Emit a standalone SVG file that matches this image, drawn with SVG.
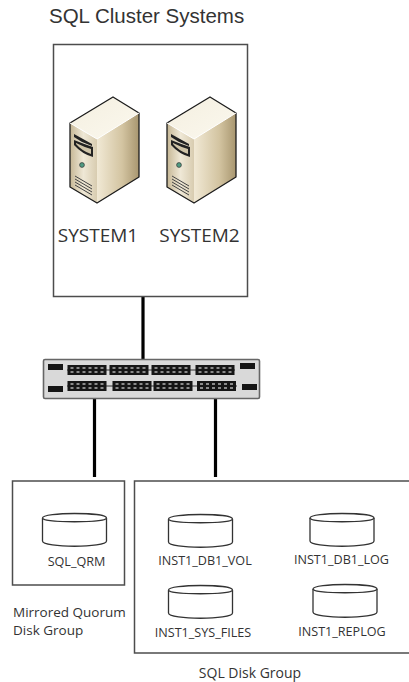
<svg xmlns="http://www.w3.org/2000/svg" width="409" height="682" viewBox="0 0 409 682">
<style>
.box{fill:#fff;stroke:#4d4d4d;stroke-width:1.5}
.link{stroke:#000;stroke-width:3.2;fill:none}
.t{font-family:"Open Sans","Noto Sans",sans-serif;fill:#333;text-anchor:middle}
.l{font-family:"Open Sans","Noto Sans",sans-serif;fill:#333;font-size:13.5px}
.s{font-size:12.6px}
.m{font-size:19px}
.title{font-family:"Liberation Sans",Arial,sans-serif;font-size:20.5px;fill:#333}
.disk{fill:#fff;stroke:#333;stroke-width:1.3}
.port{fill:#151515}
.hole{fill:#8a8a8a}
</style>
<defs>
<linearGradient id="top" x1="0" y1="0" x2="1" y2="1"><stop offset="0" stop-color="#f4efe0"/><stop offset="1" stop-color="#fbf8ee"/></linearGradient>
<linearGradient id="front" x1="0" y1="0" x2="1" y2="0"><stop offset="0" stop-color="#c6b795"/><stop offset=".5" stop-color="#efe8d6"/><stop offset="1" stop-color="#d8ccb0"/></linearGradient>
<linearGradient id="side" x1="0" y1="0" x2="1" y2="0"><stop offset="0" stop-color="#f1e9d5"/><stop offset=".6" stop-color="#d3c4a1"/><stop offset="1" stop-color="#a8966f"/></linearGradient>
<g id="server">
<path d="M70 123L113 97L139 113L97 139Z" fill="url(#top)"/>
<path d="M70 123L97 139V203L70 187Z" fill="url(#front)"/>
<path d="M97 139L139 113V177L97 203Z" fill="url(#side)"/>
<path d="M70 123L113 97L139 113V177L97 203L70 187Z" fill="none" stroke="#1c1c1c" stroke-width="1.3" stroke-linejoin="round"/>
<path d="M97 139L139 113M70 123L97 139" fill="none" stroke="#fff" stroke-width="1"/>
<path d="M74 134L92 144L92 146L82 142L74 137Z" fill="#222"/>
<path d="M74 140Q84 144 93 147V157Q82 154 74 145Z" fill="#222"/>
<path d="M76 143Q84 147 91 149V154Q82 151 76 144Z" fill="#cfc4a8"/>
<circle cx="82" cy="165" r="2.4" fill="#4f9b82" stroke="#333" stroke-width=".7"/>
<path d="M75 176L92 186M75 179L92 189M75 182L92 192M75 185L92 195" fill="none" stroke="#444" stroke-width="1"/>
</g>
<g id="portrow">
<rect x="0" y="0" width="39" height="10" class="port"/>
<g class="hole"><rect x="3" y="2" width="3" height="2"/><rect x="9" y="2" width="3" height="2"/><rect x="15" y="2" width="3" height="2"/><rect x="21" y="2" width="3" height="2"/><rect x="27" y="2" width="3" height="2"/><rect x="33" y="2" width="3" height="2"/><rect x="3" y="6" width="3" height="2"/><rect x="9" y="6" width="3" height="2"/><rect x="15" y="6" width="3" height="2"/><rect x="21" y="6" width="3" height="2"/><rect x="27" y="6" width="3" height="2"/><rect x="33" y="6" width="3" height="2"/></g>
</g>
<g id="disk">
<path class="disk" d="M0 5C0 -1 64 -1 64 5V28C64 35 0 35 0 28Z"/>
<path class="disk" fill="none" d="M0 5C0 10 64 10 64 5"/>
</g>
</defs>
<rect width="409" height="682" fill="#fff"/>
<g id="connectors">
<path class="link" d="M143 296V359"/>
<path class="link" d="M94.500 398V477"/>
<path class="link" d="M215.500 398V477"/>
</g>
<g id="cluster">
<rect class="box" x="53.500" y="44.500" width="194" height="252"/>
<text class="title" x="49" y="23">SQL Cluster Systems</text>
</g>
<g id="system1"><use href="#server"/><text class="t m" x="98" y="242">SYSTEM1</text></g>
<g id="system2"><use href="#server" x="97"/><text class="t m" x="199.500" y="242">SYSTEM2</text></g>
<g id="switch">
<rect x="43.500" y="359.500" width="216" height="39" rx="1.5" fill="#d9d9d9" stroke="#666" stroke-width="1.6"/>
<rect x="48" y="364" width="15" height="6" class="port"/><rect x="240" y="363" width="15" height="6" class="port"/><rect x="48" y="386" width="15" height="6" class="port"/><rect x="242" y="384" width="15" height="6" class="port"/>
<path d="M67 370H235M67 386H237" stroke="#333" stroke-width="1"/>
<use href="#portrow" x="67.500" y="365"/><use href="#portrow" x="109.500" y="365"/><use href="#portrow" x="151.500" y="365"/><use href="#portrow" x="195.500" y="365"/>
<use href="#portrow" x="67.500" y="381"/><use href="#portrow" x="112.500" y="381"/><use href="#portrow" x="153.500" y="381"/><use href="#portrow" x="197" y="381"/>
</g>
<g id="quorum-group">
<rect class="box" x="12.500" y="481" width="112" height="104"/>
<use href="#disk" x="42.500" y="513"/>
<text class="t s" x="76.500" y="566">SQL_QRM</text>
<text class="l" x="13" y="617">Mirrored Quorum</text>
<text class="l" x="13" y="635">Disk Group</text>
</g>
<g id="sql-group">
<rect class="box" x="134.500" y="481" width="280" height="172"/>
<use href="#disk" x="168.500" y="514"/><text class="t s" x="205" y="565">INST1_DB1_VOL</text>
<use href="#disk" x="310" y="513"/><text class="t s" x="341.500" y="564">INST1_DB1_LOG</text>
<use href="#disk" x="168.500" y="585"/><text class="t s" x="203" y="637">INST1_SYS_FILES</text>
<use href="#disk" x="313" y="584"/><text class="t s" x="342" y="636">INST1_REPLOG</text>
<text class="t" font-size="14" x="250" y="678">SQL Disk Group</text>
</g>
</svg>
